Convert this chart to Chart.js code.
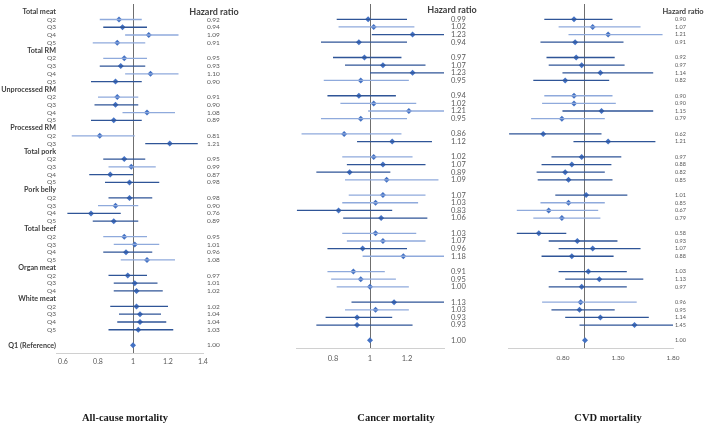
<!DOCTYPE html>
<html>
<head>
<meta charset="utf-8">
<script src="https://cdn.jsdelivr.net/npm/chart.js@4.4.1/dist/chart.umd.min.js"></script>
<style>
  body { margin: 0; background: #fff; }
  canvas { position: absolute; top: 0; }
</style>
</head>
<body>
<canvas id="allCause" width="250" height="427" style="left:0px"></canvas>
<canvas id="cancer" width="246" height="427" style="left:250px"></canvas>
<canvas id="cvd" width="206" height="427" style="left:502px"></canvas>
<script>
var rowLabels = ['Total meat', 'Q2', 'Q3', 'Q4', 'Q5',
  'Total RM', 'Q2', 'Q3', 'Q4', 'Q5',
  'Unprocessed RM', 'Q2', 'Q3', 'Q4', 'Q5',
  'Processed RM', 'Q2', 'Q3',
  'Total pork', 'Q2', 'Q3', 'Q4', 'Q5',
  'Pork belly', 'Q2', 'Q3', 'Q4', 'Q5',
  'Total beef', 'Q2', 'Q3', 'Q4', 'Q5',
  'Organ meat', 'Q2', 'Q3', 'Q4',
  'White meat', 'Q2', 'Q3', 'Q4', 'Q5',
  '', 'Q1 (Reference)'];

// all-cause mortality
var allHR = [null, 0.92, 0.94, 1.09, 0.91, null, 0.95, 0.93, 1.10, 0.90, null, 0.91, 0.90, 1.08, 0.89, null, 0.81, 1.21,
  null, 0.95, 0.99, 0.87, 0.98, null, 0.98, 0.90, 0.76, 0.89, null, 0.95, 1.01, 0.96, 1.08, null, 0.97, 1.01, 1.02,
  null, 1.02, 1.04, 1.04, 1.03, null, 1.00];
var allLo = [null, 0.81, 0.83, 0.955, 0.77, null, 0.83, 0.81, 0.955, 0.76, null, 0.80, 0.78, 0.94, 0.76, null, 0.65, 1.07,
  null, 0.83, 0.86, 0.75, 0.84, null, 0.86, 0.80, 0.625, 0.77, null, 0.83, 0.89, 0.83, 0.93, null, 0.86, 0.89, 0.89,
  null, 0.87, 0.92, 0.91, 0.86, null, null];
var allHi = [null, 1.05, 1.08, 1.26, 1.07, null, 1.08, 1.07, 1.26, 1.05, null, 1.03, 1.03, 1.24, 1.05, null, 1.01, 1.37,
  null, 1.07, 1.13, 1.00, 1.15, null, 1.11, 1.03, 0.93, 1.03, null, 1.08, 1.15, 1.11, 1.24, null, 1.08, 1.14, 1.17,
  null, 1.20, 1.16, 1.19, 1.23, null, null];
var allTone = ['', 'l', 'd', 'l', 'l', '', 'l', 'd', 'l', 'd', '', 'l', 'd', 'l', 'd', '', 'l', 'd',
  '', 'd', 'l', 'd', 'd', '', 'd', 'l', 'd', 'd', '', 'l', 'l', 'd', 'l', '', 'd', 'd', 'd',
  '', 'd', 'd', 'd', 'd', '', ''];

// cancer mortality
var canHR = [null, 0.99, 1.02, 1.23, 0.94, null, 0.97, 1.07, 1.23, 0.95, null, 0.94, 1.02, 1.21, 0.95, null, 0.86, 1.12,
  null, 1.02, 1.07, 0.89, 1.09, null, 1.07, 1.03, 0.83, 1.06, null, 1.03, 1.07, 0.96, 1.18, null, 0.91, 0.95, 1.00,
  null, 1.13, 1.03, 0.93, 0.93, null, 1.00];
var canLo = [null, 0.82, 0.83, 1.01, 0.735, null, 0.80, 0.865, 1.00, 0.75, null, 0.77, 0.84, 0.99, 0.735, null, 0.63, 0.93,
  null, 0.85, 0.875, 0.71, 0.865, null, 0.885, 0.85, 0.605, 0.855, null, 0.85, 0.875, 0.77, 0.96, null, 0.77, 0.79, 0.82,
  null, 0.90, 0.865, 0.76, 0.71, null, null];
var canHi = [null, 1.20, 1.24, 1.40, 1.20, null, 1.17, 1.30, 1.40, 1.21, null, 1.14, 1.25, 1.40, 1.20, null, 1.17, 1.335,
  null, 1.23, 1.30, 1.11, 1.37, null, 1.30, 1.26, 1.12, 1.31, null, 1.25, 1.30, 1.20, 1.40, null, 1.08, 1.14, 1.21,
  null, 1.40, 1.21, 1.12, 1.23, null, null];
var canTone = ['', 'd', 'l', 'd', 'd', '', 'd', 'd', 'd', 'l', '', 'd', 'l', 'l', 'l', '', 'l', 'd',
  '', 'l', 'd', 'd', 'l', '', 'l', 'l', 'd', 'd', '', 'l', 'l', 'd', 'l', '', 'l', 'l', 'l',
  '', 'd', 'l', 'd', 'd', '', ''];

// CVD mortality
var cvdHR = [null, 0.90, 1.07, 1.21, 0.91, null, 0.92, 0.97, 1.14, 0.82, null, 0.90, 0.90, 1.15, 0.79, null, 0.62, 1.21,
  null, 0.97, 0.88, 0.82, 0.85, null, 1.01, 0.85, 0.67, 0.79, null, 0.58, 0.93, 1.07, 0.88, null, 1.03, 1.13, 0.97,
  null, 0.96, 0.95, 1.14, 1.45, null, 1.00];
var cvdLo = [null, 0.63, 0.76, 0.85, 0.595, null, 0.65, 0.67, 0.795, 0.53, null, 0.63, 0.61, 0.795, 0.51, null, 0.31, 0.895,
  null, 0.695, 0.605, 0.56, 0.57, null, 0.73, 0.595, 0.38, 0.53, null, 0.38, 0.67, 0.76, 0.605, null, 0.76, 0.82, 0.67,
  null, 0.61, 0.695, 0.82, 0.95, null, null];
var cvdHi = [null, 1.25, 1.505, 1.705, 1.35, null, 1.27, 1.36, 1.62, 1.22, null, 1.25, 1.28, 1.62, 1.18, null, 1.15, 1.64,
  null, 1.33, 1.24, 1.18, 1.25, null, 1.385, 1.18, 1.12, 1.14, null, 0.83, 1.295, 1.505, 1.26, null, 1.38, 1.53, 1.38,
  null, 1.47, 1.27, 1.58, 1.80, null, null];
var cvdTone = ['', 'd', 'l', 'l', 'd', '', 'd', 'd', 'd', 'd', '', 'l', 'l', 'd', 'l', '', 'd', 'd',
  '', 'd', 'd', 'd', 'd', '', 'd', 'l', 'l', 'l', '', 'd', 'd', 'd', 'd', '', 'd', 'd', 'd',
  '', 'l', 'd', 'd', 'd', '', ''];

var allTicks = [0.6, 0.8, 1, 1.2, 1.4];
var canTicks = [0.8, 1, 1.2];
var cvdTicks = [0.8, 1, 1.3, 1.8];

var DARK = '#2f5597', LIGHT = '#8faadc', DOT = '#4472c4';
var FONT = 'Lato';

function isHeader(c) {
  var l = c && c.tick ? rowLabels[c.tick.value] : undefined;
  if (typeof l !== 'string') return false;
  return l === 'Q1 (Reference)' || (l !== '' && l.charAt(0) !== 'Q');
}

// draws the "Hazard ratio" column heading above the right-hand axis
var hrHeader = {
  id: 'hrHeader',
  afterDraw: function (chart, args, o) {
    var ctx = chart.ctx;
    ctx.save();
    ctx.font = 'bold ' + o.size + 'px ' + FONT;
    ctx.fillStyle = '#404040';
    ctx.textAlign = 'center';
    ctx.textBaseline = 'middle';
    ctx.fillText('Hazard ratio', chart.chartArea.right + o.dx, chart.scales.yr.getPixelForValue(0) + o.dy);
    ctx.restore();
  }
};

function makePanel(id, p) {
  var bars = [], pts = [], barCol = [];
  rowLabels.forEach(function (l, i) {
    if (p.lo[i] != null) {
      bars.push({ y: i, x: [p.lo[i], p.hi[i]] });
      barCol.push(p.tone[i] === 'd' ? DARK : LIGHT);
    }
    if (p.hr[i] != null) pts.push({ x: p.hr[i], y: i });
  });

  new Chart(document.getElementById(id), {
    type: 'bar',
    data: {
      datasets: [{
        type: 'bar',
        indexAxis: 'y',
        xAxisID: 'x',
        yAxisID: 'y',
        data: bars,
        backgroundColor: barCol,
        barThickness: 1.3,
        inflateAmount: 0,
        grouped: false
      }, {
        type: 'scatter',
        xAxisID: 'x',
        yAxisID: 'y',
        data: pts,
        pointStyle: 'rectRot',
        pointRadius: 3,
        pointBackgroundColor: DOT,
        pointBorderWidth: 0
      }]
    },
    options: {
      responsive: false,
      animation: false,
      layout: { padding: { top: p.top, left: p.showLabels ? 0 : p.left, right: 0, bottom: 0 } },
      plugins: {
        legend: { display: false },
        tooltip: { enabled: false },
        title: {
          display: true,
          position: 'bottom',
          text: p.title,
          color: '#1a1a1a',
          font: { family: 'Liberation Serif', size: 10.5, weight: 'bold' },
          padding: { top: 0, bottom: 2 }
        },
        hrHeader: { size: p.hdrSize, dx: p.hdrDx, dy: p.hdrDy }
      },
      scales: {
        x: {
          type: 'linear',
          offset: false,
          min: p.min,
          max: p.max,
          afterBuildTicks: function (s) { s.ticks = p.ticks.map(function (v) { return { value: v }; }); },
          afterFit: function (s) { s.height = 412.4 - p.bottom; },
          ticks: {
            autoSkip: false,
            maxRotation: 0,
            padding: p.tickPad,
            color: '#595959',
            font: { family: FONT, size: p.tickSize },
            callback: p.tickFmt
          },
          grid: {
            offset: false,
            drawTicks: false,
            lineWidth: 1,
            color: function (c) { return c.tick && c.tick.value === 1 ? '#6f6f6f' : 'rgba(0,0,0,0)'; }
          },
          border: { color: '#d0d0d0' }
        },
        y: {
          type: 'linear',
          offset: false,
          display: p.showLabels,
          min: -1,
          max: 44,
          reverse: true,
          afterBuildTicks: function (s) { s.ticks = rowLabels.map(function (l, i) { return { value: i }; }); },
          afterFit: function (s) { s.width = p.showLabels ? p.left : 0; s.paddingTop = 0; s.paddingBottom = 0; },
          ticks: {
            autoSkip: false,
            padding: 0,
            callback: function (v) { return rowLabels[v]; },
            color: function (c) { return isHeader(c) ? '#404040' : '#595959'; },
            font: function (c) {
              return isHeader(c) ? { family: FONT, size: 7.2, weight: 'bold' } : { family: FONT, size: 6.5 };
            }
          },
          grid: { display: false, drawTicks: false },
          border: { display: false }
        },
        yr: {
          type: 'linear',
          position: 'right',
          offset: false,
          min: -1,
          max: 44,
          reverse: true,
          afterBuildTicks: function (s) {
            s.ticks = [];
            p.hr.forEach(function (v, i) { if (v != null) s.ticks.push({ value: i }); });
          },
          afterFit: function (s) { s.width = p.rightW; s.paddingTop = 0; s.paddingBottom = 0; },
          ticks: {
            autoSkip: false,
            crossAlign: 'near',
            padding: p.valPad,
            color: '#595959',
            font: { family: FONT, size: p.valSize },
            callback: function (v) { return p.hr[v] != null ? p.hr[v].toFixed(2) : ''; }
          },
          grid: { display: false, drawTicks: false },
          border: { display: false }
        }
      }
    },
    plugins: [hrHeader]
  });
}

makePanel('allCause', {
  title: 'All-cause mortality', hr: allHR, lo: allLo, hi: allHi, tone: allTone,
  min: 0.56, max: 1.4, ticks: allTicks,
  tickFmt: function (v) { return String(v); },
  showLabels: true, top: 2, bottom: 353, left: 56, rightW: 47,
  tickPad: 5, tickSize: 7, valPad: 4, valSize: 6.5,
  hdrSize: 9, hdrDx: 11, hdrDy: 0
});

makePanel('cancer', {
  title: 'Cancer mortality', hr: canHR, lo: canLo, hi: canHi, tone: canTone,
  min: 0.6, max: 1.4, ticks: canTicks,
  tickFmt: function (v) { return String(v); },
  showLabels: false, top: 0, bottom: 348, left: 46, rightW: 52,
  tickPad: 6.5, tickSize: 7.5, valPad: 7, valSize: 7.5,
  hdrSize: 9, hdrDx: 8, hdrDy: -2
});

makePanel('cvd', {
  title: 'CVD mortality', hr: cvdHR, lo: cvdLo, hi: cvdHi, tone: cvdTone,
  min: 0.3, max: 1.8, ticks: cvdTicks,
  tickFmt: function (v) { return v === 1 ? '' : v.toFixed(2); },
  showLabels: false, top: 3, bottom: 348, left: 6, rightW: 35,
  tickPad: 6, tickSize: 6.5, valPad: 2, valSize: 5.5,
  hdrSize: 7.5, hdrDx: 10, hdrDy: 0
});
</script>
</body>
</html>
